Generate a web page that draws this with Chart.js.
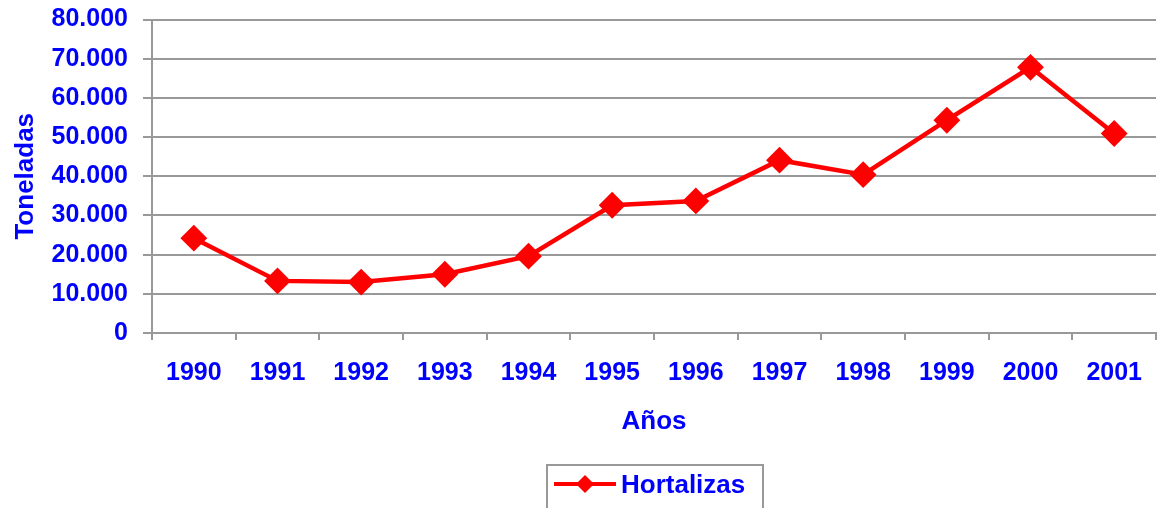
<!DOCTYPE html>
<html>
<head>
<meta charset="utf-8">
<script src="https://cdn.jsdelivr.net/npm/chart.js@4"></script>
<style>
body{margin:0;overflow:hidden;background:#fff;}
#wrap{width:1160px;height:508px;position:relative;}
</style>
</head>
<body>
<div id="wrap"><canvas id="trend"></canvas></div>
<script>
var years = ['1990','1991','1992','1993','1994','1995','1996','1997','1998','1999','2000','2001'];
var hortalizas = [24200,13300,13000,15000,19600,32600,33700,44100,40400,54300,67800,50900];
var series_name = 'Hortalizas';
var y_title = 'Toneladas';
var x_title = 'Años';

var blue = '#0000FF';
var grey = '#999999';
var red = '#FF0000';

function FmtThousands(v){
    return v.toString().replace(/\B(?=(\d{3})+(?!\d))/g, '.');
}
//********************************************** */
// boxed legend like the original sheet
var boxLegend = {
    id: 'boxLegend',
    afterDraw(chart){
        const ctx = chart.ctx;
        const ds = chart.data.datasets[0];
        ctx.save();
        ctx.strokeStyle = grey;
        ctx.lineWidth = 2;
        ctx.strokeRect(547, 465, 216, 60);
        ctx.strokeStyle = ds.borderColor;
        ctx.lineWidth = 4;
        ctx.beginPath();
        ctx.moveTo(554, 484);
        ctx.lineTo(616, 484);
        ctx.stroke();
        ctx.fillStyle = ds.borderColor;
        ctx.beginPath();
        ctx.moveTo(585, 475);
        ctx.lineTo(594, 484);
        ctx.lineTo(585, 493);
        ctx.lineTo(576, 484);
        ctx.closePath();
        ctx.fill();
        ctx.fillStyle = blue;
        ctx.font = 'bold 26px "Liberation Sans", Arial, sans-serif';
        ctx.textBaseline = 'middle';
        ctx.textAlign = 'left';
        ctx.fillText(ds.label, 621, 486);
        ctx.restore();
    }
};

new Chart('trend', {
    type: 'line',
    data: {
        labels: years,
        datasets: [{
            label: series_name,
            data: hortalizas,
            borderColor: red,
            backgroundColor: red,
            borderWidth: 4.5,
            tension: 0,
            pointStyle: 'rectRot',
            pointRadius: 12,
            pointBorderWidth: 2,
            pointBackgroundColor: red,
            pointBorderColor: red,
            clip: false,
        }]
    },
    options: {
        responsive: true,
        maintainAspectRatio: false,
        animation: false,
        layout: {autoPadding: false, padding: {top: 19.5, right: 0, bottom: 71, left: 0}},
        plugins: {legend: {display: false}, tooltip: {enabled: false}},
        scales: {
            x: {
                offset: true,
                afterFit(s){ s.height = 104; },
                grid: {display: true, drawOnChartArea: false, offset: true, tickLength: 7, color: grey, lineWidth: 2},
                border: {color: grey, width: 2},
                ticks: {color: blue, padding: 18, maxRotation: 0, font: {family: '"Liberation Sans", Arial, sans-serif', size: 25, weight: 'bold'}},
                title: {display: true, text: x_title, color: blue, padding: 0, font: {family: '"Liberation Sans", Arial, sans-serif', size: 26, weight: 'bold'}},
            },
            y: {
                min: 0,
                max: 80000,
                afterFit(s){ s.width = 152; s.paddingTop = 0; s.paddingBottom = 0; },
                grid: {color: grey, lineWidth: 2, tickLength: 9},
                border: {color: grey, width: 2},
                ticks: {
                    stepSize: 10000,
                    color: blue,
                    padding: 15,
                    font: {family: '"Liberation Sans", Arial, sans-serif', size: 25, weight: 'bold'},
                    callback: function(v){ return FmtThousands(v); }
                },
                title: {display: true, text: y_title, color: blue, padding: {top: 10, bottom: 0}, font: {family: '"Liberation Sans", Arial, sans-serif', size: 26, weight: 'bold'}},
            }
        }
    },
    plugins: [boxLegend]
});
</script>
</body>
</html>
